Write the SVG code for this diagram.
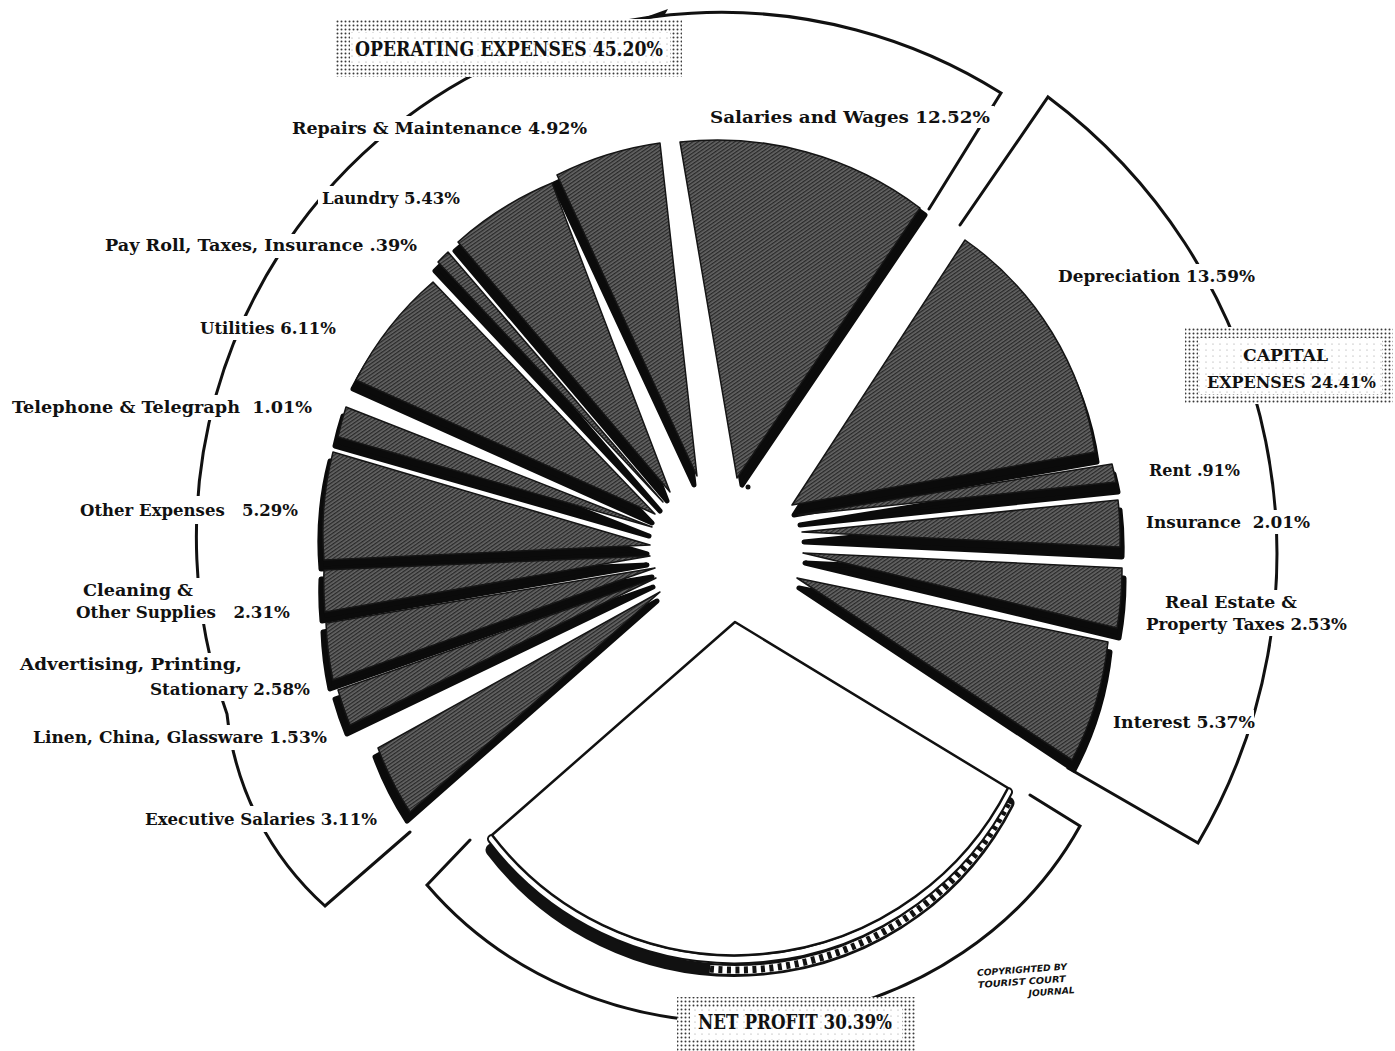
<svg xmlns="http://www.w3.org/2000/svg" xmlns:xlink="http://www.w3.org/1999/xlink" width="1395" height="1051" viewBox="0 0 1395 1051">
<style>
.side{fill:#0b0b0b;stroke:#0b0b0b;stroke-width:5;stroke-linejoin:round}
.top{fill:url(#hatch);stroke:#151515;stroke-width:1.5;stroke-linejoin:round}
.br{fill:none;stroke:#111;stroke-width:3;stroke-linejoin:miter;stroke-linecap:round}
.lbl{font-family:"DejaVu Serif","Liberation Serif",serif;font-weight:bold;font-size:17px;fill:#111}
.big{font-size:20px}
.cap{font-size:17px}
.bg{fill:#fff}
.hand{font-family:"DejaVu Sans","Liberation Sans",sans-serif;font-style:italic;font-weight:bold;font-size:9px;fill:#111}
</style>
<defs>
<pattern id="hatch" width="3" height="3" patternUnits="userSpaceOnUse" patternTransform="rotate(-35)">
<rect width="3" height="3" fill="#666"/><rect width="3" height="1.3" fill="#282828"/>
</pattern>
<pattern id="dots" width="4" height="4" patternUnits="userSpaceOnUse">
<rect width="4" height="4" fill="#fff"/><circle cx="1.5" cy="1.5" r="1" fill="#3a3a3a"/>
</pattern>
<pattern id="dotsLight" width="7" height="6" patternUnits="userSpaceOnUse">
<rect width="7" height="6" fill="#fff"/><circle cx="2" cy="2" r="0.6" fill="#999"/>
</pattern>
<path id="s-sal" d="M737,478 L680,142 A336,336 0 0 1 920,208 Z"/>
<path id="s-rep" d="M697,476 L557,175 A333,333 0 0 1 660,143 Z"/>
<path id="s-lau" d="M670,492 L458,242 A330,330 0 0 1 552,183 Z"/>
<path id="s-pay" d="M663,502 L438,262 A330,330 0 0 1 448,252 Z"/>
<path id="s-uti" d="M655,514 L356,380 A325,325 0 0 1 433,282 Z"/>
<path id="s-tel" d="M652,527 L338,437 A328,328 0 0 1 346,407 Z"/>
<path id="s-oth" d="M650,545 L324,560 A328,328 0 0 1 333,452 Z"/>
<path id="s-cle" d="M650,556 L325,612 A328,328 0 0 1 324,570 Z"/>
<path id="s-adv" d="M655,568 L333,680 A335,335 0 0 1 326,623 Z"/>
<path id="s-lin" d="M656,578 L350,725 A338,338 0 0 1 338,690 Z"/>
<path id="s-exe" d="M660,592 L410,812 A330,330 0 0 1 378,748 Z"/>
<path id="s-dep" d="M792,505 L965,240 A312,312 0 0 1 1095,452 Z"/>
<path id="s-ren" d="M798,515 L1112,464 A318,318 0 0 1 1116,482 Z"/>
<path id="s-ins" d="M802,532 L1118,500 A318,318 0 0 1 1120,547 Z"/>
<path id="s-rea" d="M803,553 L1122,568 A322,322 0 0 1 1117,628 Z"/>
<path id="s-int" d="M797,578 L1108,642 A325,325 0 0 1 1072,760 Z"/>
<path id="rimArc" d="M492,835 A306,306 0 0 0 1008,788"/>
<path id="rimL" d="M492,835 A306,306 0 0 0 710,954"/>
<path id="rimR" d="M710,954 A306,306 0 0 0 1008,788"/>
</defs>
<rect width="1395" height="1051" fill="#fff"/>

<g id="connectors">
<path class="br" d="M929,209 L1001,93 A525,525 0 0 0 227,714 A300,300 0 0 0 325,906 L410,832"/>
<polygon points="632,22 668,9 664,16" fill="#111"/>
<path class="br" d="M960,225 L1048,97 A570,570 0 0 1 1198,843 L1068,768"/>
<path class="br" d="M470,840 L427,885 A390,360 0 0 0 1080,826 L1030,795"/>
</g>

<g id="slice-salaries"><use href="#s-sal" class="side" transform="translate(5,7)"/><use href="#s-sal" class="top"/></g>
<g id="slice-repairs"><use href="#s-rep" class="side" transform="translate(-3,9)"/><use href="#s-rep" class="top"/></g>
<g id="slice-laundry"><use href="#s-lau" class="side" transform="translate(-3,9)"/><use href="#s-lau" class="top"/></g>
<g id="slice-payroll"><use href="#s-pay" class="side" transform="translate(-3,9)"/><use href="#s-pay" class="top"/></g>
<g id="slice-utilities"><use href="#s-uti" class="side" transform="translate(-3,9)"/><use href="#s-uti" class="top"/></g>
<g id="slice-telephone"><use href="#s-tel" class="side" transform="translate(-3,9)"/><use href="#s-tel" class="top"/></g>
<g id="slice-other"><use href="#s-oth" class="side" transform="translate(-3,9)"/><use href="#s-oth" class="top"/></g>
<g id="slice-cleaning"><use href="#s-cle" class="side" transform="translate(-3,9)"/><use href="#s-cle" class="top"/></g>
<g id="slice-advertising"><use href="#s-adv" class="side" transform="translate(-3,9)"/><use href="#s-adv" class="top"/></g>
<g id="slice-linen"><use href="#s-lin" class="side" transform="translate(-3,9)"/><use href="#s-lin" class="top"/></g>
<g id="slice-executive"><use href="#s-exe" class="side" transform="translate(-3,9)"/><use href="#s-exe" class="top"/></g>

<g id="slice-depreciation"><use href="#s-dep" class="side" transform="translate(2,10)"/><use href="#s-dep" class="top"/></g>
<g id="slice-rent"><use href="#s-ren" class="side" transform="translate(2,10)"/><use href="#s-ren" class="top"/></g>
<g id="slice-insurance"><use href="#s-ins" class="side" transform="translate(2,10)"/><use href="#s-ins" class="top"/></g>
<g id="slice-realestate"><use href="#s-rea" class="side" transform="translate(2,10)"/><use href="#s-rea" class="top"/></g>
<g id="slice-interest"><use href="#s-int" class="side" transform="translate(2,10)"/><use href="#s-int" class="top"/></g>

<g id="slice-netprofit">
<use href="#rimArc" transform="translate(0,15)" fill="none" stroke="#111" stroke-width="13" stroke-linecap="round"/>
<use href="#rimR" transform="translate(0,15)" fill="none" stroke="#fff" stroke-width="8"/>
<use href="#rimR" transform="translate(0,15)" fill="none" stroke="#111" stroke-width="7" stroke-dasharray="4 4.5"/>
<use href="#rimArc" transform="translate(0,4)" fill="none" stroke="#111" stroke-width="10" stroke-linecap="round"/>
<use href="#rimArc" transform="translate(0,4)" fill="none" stroke="#fff" stroke-width="6" stroke-linecap="round"/>
<path d="M735,622 L1008,788 A306,306 0 0 1 492,835 Z" fill="#fff" stroke="#111" stroke-width="2.5" stroke-linejoin="round"/>
</g>
<circle cx="748" cy="487" r="2.5" fill="#111"/>

<g id="box-operating">
<rect x="335" y="19" width="347" height="58" fill="url(#dots)"/>
<rect x="350" y="32" width="320" height="33" fill="url(#dotsLight)"/>
<text class="lbl big" x="355" y="56" textLength="308" lengthAdjust="spacingAndGlyphs">OPERATING EXPENSES 45.20%</text>
</g>
<g id="box-capital">
<rect x="1185" y="327" width="208" height="77" fill="url(#dots)"/>
<rect x="1198" y="338" width="184" height="56" fill="url(#dotsLight)"/>
<text class="lbl cap" x="1243" y="361" textLength="85" lengthAdjust="spacingAndGlyphs">CAPITAL</text>
<text class="lbl cap" x="1207" y="388" textLength="169" lengthAdjust="spacingAndGlyphs">EXPENSES 24.41%</text>
</g>
<g id="box-netprofit">
<rect x="677" y="997" width="238" height="54" fill="url(#dots)"/>
<rect x="690" y="1007" width="212" height="33" fill="url(#dotsLight)"/>
<text class="lbl big" x="698" y="1029" textLength="194" lengthAdjust="spacingAndGlyphs">NET PROFIT 30.39%</text>
</g>

<g id="label-salaries"><rect class="bg" x="706" y="106" width="288" height="22"/><text class="lbl" x="710" y="123" textLength="280" lengthAdjust="spacingAndGlyphs">Salaries and Wages 12.52%</text></g>
<g id="label-repairs"><rect class="bg" x="288" y="116" width="303" height="25"/><text class="lbl" x="292" y="134" textLength="295" lengthAdjust="spacingAndGlyphs">Repairs &amp; Maintenance 4.92%</text></g>
<g id="label-laundry"><rect class="bg" x="318" y="186" width="146" height="24"/><text class="lbl" x="322" y="204" textLength="138" lengthAdjust="spacingAndGlyphs">Laundry 5.43%</text></g>
<g id="label-payroll"><rect class="bg" x="101" y="234" width="320" height="24"/><text class="lbl" x="105" y="251" textLength="312" lengthAdjust="spacingAndGlyphs">Pay Roll, Taxes, Insurance .39%</text></g>
<g id="label-utilities"><rect class="bg" x="196" y="316" width="144" height="24"/><text class="lbl" x="200" y="334" textLength="136" lengthAdjust="spacingAndGlyphs">Utilities 6.11%</text></g>
<g id="label-telephone"><rect class="bg" x="8" y="395" width="308" height="25"/><text class="lbl" x="12" y="413" textLength="300" lengthAdjust="spacingAndGlyphs" xml:space="preserve">Telephone &amp; Telegraph  1.01%</text></g>
<g id="label-other"><rect class="bg" x="76" y="496" width="226" height="28"/><text class="lbl" x="80" y="516" textLength="218" lengthAdjust="spacingAndGlyphs" xml:space="preserve">Other Expenses   5.29%</text></g>
<g id="label-cleaning"><rect class="bg" x="72" y="578" width="222" height="46"/><text class="lbl" x="83" y="596" textLength="110" lengthAdjust="spacingAndGlyphs">Cleaning &amp;</text><text class="lbl" x="76" y="618" textLength="214" lengthAdjust="spacingAndGlyphs" xml:space="preserve">Other Supplies   2.31%</text></g>
<g id="label-advertising"><rect class="bg" x="16" y="653" width="298" height="48"/><text class="lbl" x="20" y="670" textLength="222" lengthAdjust="spacingAndGlyphs">Advertising, Printing,</text><text class="lbl" x="150" y="695" textLength="160" lengthAdjust="spacingAndGlyphs">Stationary 2.58%</text></g>
<g id="label-linen"><rect class="bg" x="29" y="725" width="302" height="25"/><text class="lbl" x="33" y="743" textLength="294" lengthAdjust="spacingAndGlyphs">Linen, China, Glassware 1.53%</text></g>
<g id="label-executive"><rect class="bg" x="141" y="806" width="240" height="26"/><text class="lbl" x="145" y="825" textLength="232" lengthAdjust="spacingAndGlyphs">Executive Salaries 3.11%</text></g>

<g id="label-depreciation"><rect class="bg" x="1054" y="264" width="205" height="25"/><text class="lbl" x="1058" y="282" textLength="197" lengthAdjust="spacingAndGlyphs">Depreciation 13.59%</text></g>
<g id="label-rent"><rect class="bg" x="1145" y="459" width="99" height="23"/><text class="lbl" x="1149" y="476" textLength="91" lengthAdjust="spacingAndGlyphs">Rent .91%</text></g>
<g id="label-insurance"><rect class="bg" x="1142" y="510" width="172" height="24"/><text class="lbl" x="1146" y="528" textLength="164" lengthAdjust="spacingAndGlyphs" xml:space="preserve">Insurance  2.01%</text></g>
<g id="label-realestate"><rect class="bg" x="1142" y="590" width="209" height="46"/><text class="lbl" x="1165" y="608" textLength="132" lengthAdjust="spacingAndGlyphs">Real Estate &amp;</text><text class="lbl" x="1146" y="630" textLength="201" lengthAdjust="spacingAndGlyphs">Property Taxes 2.53%</text></g>
<g id="label-interest"><rect class="bg" x="1110" y="710" width="144" height="24"/><text class="lbl" x="1113" y="728" textLength="142" lengthAdjust="spacingAndGlyphs">Interest 5.37%</text></g>

<g id="copyright" transform="rotate(-4 1020 985)">
<text class="hand" x="978" y="973" textLength="90" lengthAdjust="spacingAndGlyphs">COPYRIGHTED BY</text>
<text class="hand" x="978" y="985" textLength="88" lengthAdjust="spacingAndGlyphs">TOURIST COURT</text>
<text class="hand" x="1028" y="997" textLength="46" lengthAdjust="spacingAndGlyphs">JOURNAL</text>
</g>
</svg>
